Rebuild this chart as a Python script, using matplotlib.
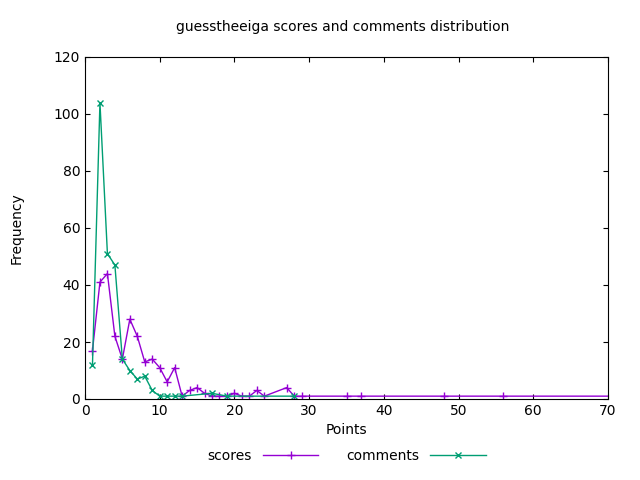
import matplotlib.pyplot as plt

score_x = [1, 2, 3, 4, 5, 6, 7, 8, 9, 10, 11, 12, 13, 14, 15, 16, 17, 18, 19, 20, 21, 22, 23, 24, 27, 28, 29, 35, 37, 48, 56, 75]
score_y = [17, 41, 44, 22, 14, 28, 22, 13, 14, 11, 6, 11, 1, 3, 4, 2, 1, 1, 1, 2, 1, 1, 3, 1, 4, 1, 1, 1, 1, 1, 1, 1]
comm_x = [1, 2, 3, 4, 5, 6, 7, 8, 9, 10, 11, 12, 13, 17, 19, 28]
comm_y = [12, 104, 51, 47, 14, 10, 7, 8, 3, 1, 1, 1, 1, 2, 1, 1]

fig = plt.figure(figsize=(6.4, 4.8), dpi=100)
ax = fig.add_axes([85/640, 81/480, 523/640, 342/480])
ax.plot(score_x, score_y, color='#9400d3', marker='+', markersize=6, lw=1, label='scores')
ax.plot(comm_x, comm_y, color='#009e73', marker='x', markersize=5, lw=1, label='comments')
ax.set_xlim(0, 70)
ax.set_ylim(0, 120)
ax.set_xticks(range(0, 71, 10))
ax.set_yticks(range(0, 121, 20))
ax.tick_params(direction='in', top=True, right=True, labelsize=10)
ax.set_xlabel('Points', fontsize=10)
ax.set_ylabel('Frequency', fontsize=10, labelpad=22)
fig.text(0.535, 0.935, 'guesstheeiga scores and comments distribution', ha='center', fontsize=10)
ax.legend(loc='upper center', bbox_to_anchor=(0.5, -0.11), ncol=2, frameon=False,
          markerfirst=False, handlelength=4, fontsize=10)
fig.savefig('out.png')
